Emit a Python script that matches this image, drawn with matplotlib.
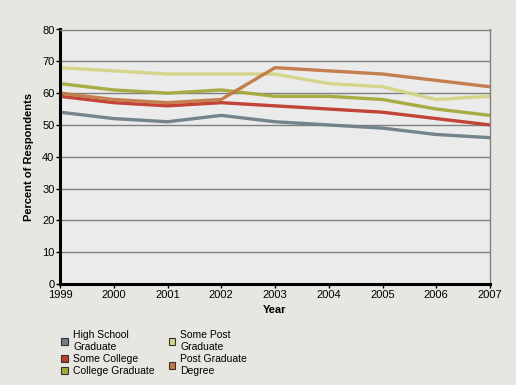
import matplotlib
matplotlib.use("Agg")
import matplotlib.pyplot as plt
from matplotlib.patches import Patch

#%% DATOS
years = [1999, 2000, 2001, 2002, 2003, 2004, 2005, 2006, 2007]
high_school = [54, 52, 51, 53, 51, 50, 49, 47, 46]
some_college = [59, 57, 56, 57, 56, 55, 54, 52, 50]
college_grad = [63, 61, 60, 61, 59, 59, 58, 55, 53]
some_post = [68, 67, 66, 66, 66, 63, 62, 58, 59]
post_degree = [60, 58, 57, 58, 68, 67, 66, 64, 62]

labels = ["High School\nGraduate", "Some College", "College Graduate",
          "Some Post\nGraduate", "Post Graduate\nDegree"]
colors = ["#6d7f87", "#c03a2e", "#a4aa3a", "#d3d486", "#c27945"]
series = [high_school, some_college, college_grad, some_post, post_degree]

#%% FIGURA
plt.rcParams["font.family"] = ["Liberation Sans", "DejaVu Sans"]
fig = plt.figure(figsize=(5.16, 3.85), dpi=100, facecolor="#e8e6e1")
ax = fig.add_axes([60/516, 101/385, 430/516, 254.5/385])
ax.set_facecolor("#ebebeb")

for vals, c in zip(series, colors):
    ax.plot(years, vals, color=c, lw=2.4, solid_capstyle="butt", alpha=0.95)

ax.set_xlim(1999, 2007)
ax.set_ylim(0, 80)
ax.set_xticks(years)
ax.set_yticks(range(0, 81, 10))
ax.yaxis.grid(True, color="#808080", lw=1)
ax.set_axisbelow(True)
ax.tick_params(labelsize=8, length=3, width=1, color="black", pad=1)

for s in ["left", "bottom"]:
    ax.spines[s].set_linewidth(2.2)
    ax.spines[s].set_color("black")
for s in ["right", "top"]:
    ax.spines[s].set_linewidth(1)
    ax.spines[s].set_color("#808080")

ax.set_ylabel("Percent of Respondents", fontsize=8, fontweight="bold", labelpad=6)
ax.set_xlabel("Year", fontsize=8, fontweight="bold", labelpad=4)

handles = [Patch(facecolor=c, edgecolor="#333333", lw=0.8) for c in colors]
fig.legend(handles, labels, ncol=2, loc="upper left", bbox_to_anchor=(52/516, 1 - 321/385),
           frameon=False, fontsize=7.5, handlelength=0.65, handleheight=0.65,
           handletextpad=0.5, columnspacing=1.3, labelspacing=0.2)

fig.savefig("out.png", dpi=100, facecolor=fig.get_facecolor())
